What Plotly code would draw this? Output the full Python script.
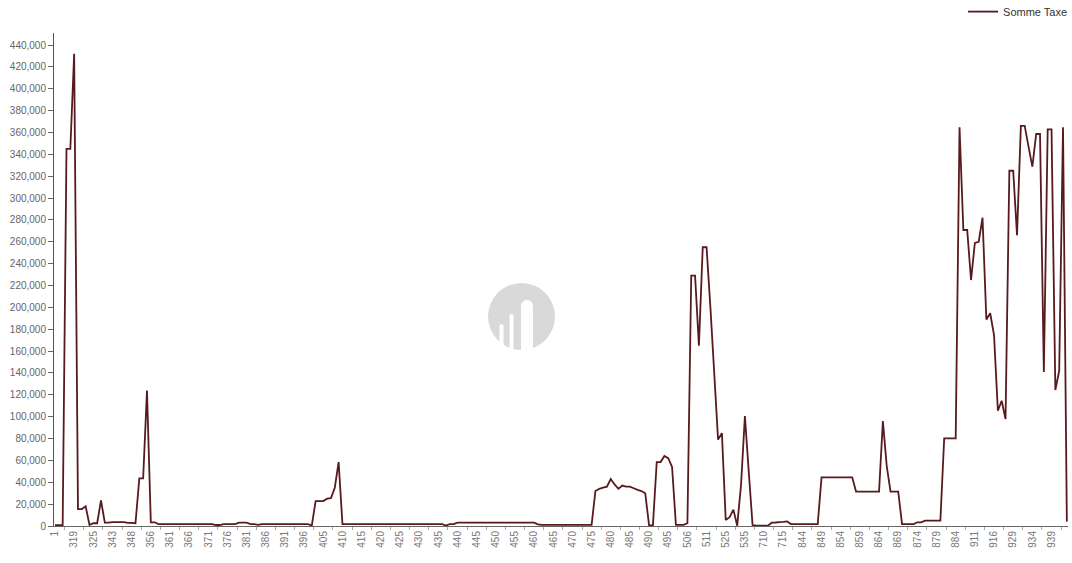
import plotly.graph_objects as go

# ---- data ----
tick_labels = ["1", "319", "325", "343", "348", "356", "361", "366", "371", "376",
               "381", "386", "391", "396", "405", "410", "415", "420", "425", "430",
               "435", "440", "445", "450", "455", "460", "465", "470", "475", "480",
               "485", "490", "495", "506", "511", "525", "535", "710", "715", "844",
               "849", "854", "859", "864", "869", "874", "879", "884", "911", "916",
               "929", "934", "939"]

somme_taxe = [
    800, 800, 800, 345000, 345000, 432000, 15500, 15500, 18000, 1000,
    2500, 2500, 23500, 3000, 3000, 3500, 3500, 3500, 3500, 2800,
    2800, 2500, 43500, 43500, 124000, 3400, 3400, 1800, 1800, 1800,
    1800, 1800, 1800, 1800, 1800, 1800, 1800, 1800, 1800, 1800,
    1800, 1800, 900, 900, 1800, 1800, 1800, 1800, 3000, 3000,
    3000, 1800, 1800, 1000, 1800, 1800, 1800, 1800, 1800, 1800,
    1800, 1800, 1800, 1800, 1800, 1800, 1800, 300, 22800, 22800,
    22800, 25000, 25500, 35000, 58500, 1800, 1800, 1800, 1800, 1800,
    1800, 1800, 1800, 1800, 1800, 1800, 1800, 1800, 1800, 1800,
    1800, 1800, 1800, 1800, 1800, 1800, 1800, 1800, 1800, 1800,
    1800, 1800, 300, 1800, 1800, 3000, 3000, 3000, 3000, 3000,
    3000, 3000, 3000, 3000, 3000, 3000, 3000, 3000, 3000, 3000,
    3000, 3000, 3000, 3000, 3000, 3000, 1500, 1000, 1000, 1000,
    1000, 1000, 1000, 1000, 1000, 1000, 1000, 1000, 1000, 1000,
    1000, 32000, 34000, 35000, 36000, 43000, 38000, 34000, 37000, 36000,
    36000, 34500, 33000, 32000, 30000, 500, 500, 58500, 58500, 64000,
    62000, 54000, 1000, 1000, 1000, 2500, 229000, 229000, 165000, 255000,
    255000, 200000, 140000, 79000, 85000, 5500, 8000, 15000, 300, 38000,
    100500, 50000, 900, 300, 300, 300, 300, 3000, 3200, 3600,
    3800, 4200, 1800, 1800, 1800, 1800, 1800, 1800, 1800, 1800,
    44500, 44500, 44500, 44500, 44500, 44500, 44500, 44500, 44500, 31500,
    31500, 31500, 31500, 31500, 31500, 31500, 96000, 55000, 31500, 31500,
    31500, 1800, 1800, 1800, 1800, 3400, 3400, 4900, 4900, 4900,
    4900, 4900, 80200, 80200, 80200, 80200, 364700, 270800, 270800, 225000,
    259000, 260000, 282000, 189000, 194600, 174700, 105500, 114600, 97900, 325000,
    325000, 266000, 366000, 366000, 347000, 328700, 358600, 358600, 141000, 362900,
    362900, 124400, 142000, 364700, 4000,
]

x_index = list(range(len(somme_taxe)))
label_positions = [i * 5 for i in range(len(tick_labels))]

# ---- figure ----
W, H = 1072, 563
ML, MR, MT, MB = 54, 4, 33, 37
PW, PH = W - ML - MR, H - MT - MB

fig = go.Figure()
fig.add_trace(go.Scatter(
    x=x_index, y=somme_taxe, mode="lines", name="Somme Taxe",
    line=dict(color="#581a1e", width=1.8, simplify=False),
    hovertemplate="%{y:,}<extra></extra>",
))

def px_x(p):
    return (p - ML) / PW

def px_y(p):
    return (H - MB - p) / PH

# watermark logo (decorative)
cx, cy, r = 521.5, 316.5, 33.5
shapes = [dict(type="circle", xref="paper", yref="paper",
               x0=px_x(cx - r), x1=px_x(cx + r), y0=px_y(cy + r), y1=px_y(cy - r),
               fillcolor="#d9d9d9", line=dict(width=0), layer="below")]
gaps = [(499.5, 503.5, 324), (509.5, 513.5, 314), (521, 533, 300)]
for gx0, gx1, gtop in gaps:
    shapes.append(dict(type="rect", xref="paper", yref="paper",
                       x0=px_x(gx0), x1=px_x(gx1), y0=px_y(352), y1=px_y(gtop + (gx1 - gx0) / 2),
                       fillcolor="white", line=dict(width=0), layer="below"))
    shapes.append(dict(type="circle", xref="paper", yref="paper",
                       x0=px_x(gx0), x1=px_x(gx1), y0=px_y(gtop + (gx1 - gx0)), y1=px_y(gtop),
                       fillcolor="white", line=dict(width=0), layer="below"))

fig.update_layout(
    width=W, height=H,
    margin=dict(l=ML, r=MR, t=MT, b=MB, autoexpand=False),
    paper_bgcolor="white", plot_bgcolor="white",
    font=dict(family="Liberation Sans, Arial, sans-serif", size=10, color="#666"),
    showlegend=True,
    legend=dict(x=1.004, xanchor="right", y=1.014, yanchor="bottom",
                font=dict(size=11, color="#333"), bgcolor="rgba(0,0,0,0)",
                itemwidth=30),
    shapes=shapes,
    xaxis=dict(
        range=[-0.26, 264.3], automargin=False,
        tickmode="array", tickvals=label_positions, ticktext=tick_labels,
        tickangle=-90, ticks="", showline=True, linecolor="#666", linewidth=1,
        showgrid=False, zeroline=False,
        tickfont=dict(size=10, color="#777"),
        minor=dict(tick0=2.5, dtick=5, ticks="outside", ticklen=3,
                   tickcolor="#aaa", showgrid=False),
    ),
    yaxis=dict(
        range=[0, 451000], automargin=False,
        tickmode="array", tickvals=list(range(0, 440001, 20000)),
        tickformat=",", ticks="outside", ticklen=5, tickcolor="#666",
        showline=True, linecolor="#555", linewidth=1,
        showgrid=False, zeroline=False,
        tickfont=dict(size=10, color="#666"),
    ),
)

fig.write_html(
    "out.html",
    config={"displayModeBar": False},
    post_script="document.body.style.margin='0';document.body.style.overflow='hidden';",
)
